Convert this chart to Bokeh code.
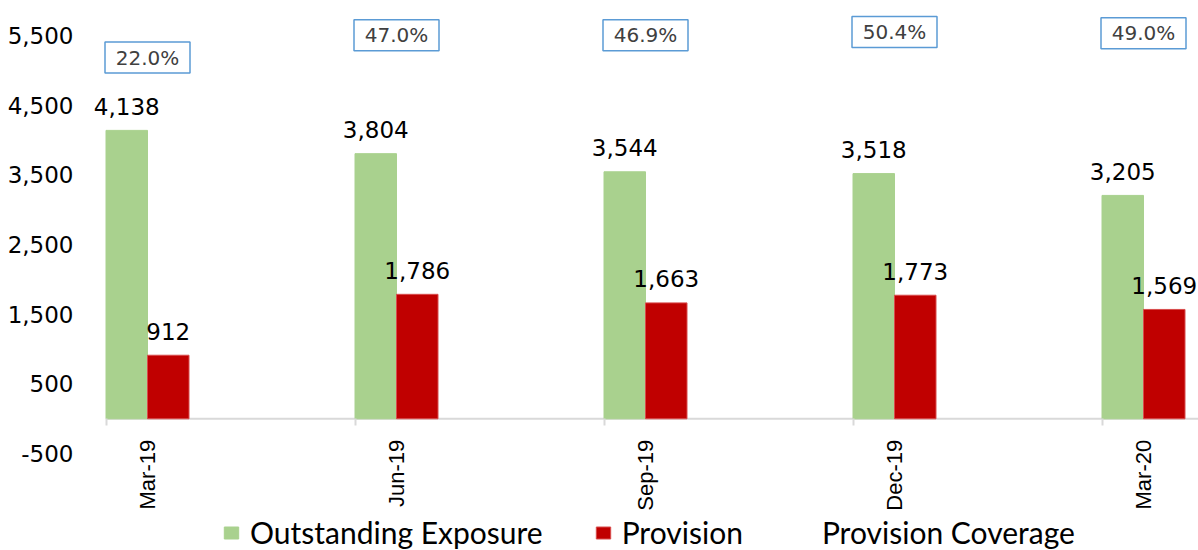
import math
from bokeh.plotting import figure
from bokeh.models import (ColumnDataSource, Range1d, FixedTicker, NumeralTickFormatter,
                          Legend, LegendItem)
from bokeh.transform import dodge
from bokeh.core.properties import value
from bokeh.embed import file_html
from bokeh.resources import INLINE

# ---- data ----
categories = ["Mar-19", "Jun-19", "Sep-19", "Dec-19", "Mar-20"]
exposure = [4138, 3804, 3544, 3518, 3205]
provision = [912, 1786, 1663, 1773, 1569]
coverage = [22.0, 47.0, 46.9, 50.4, 49.0]
y_ticks = [-500, 500, 1500, 2500, 3500, 4500, 5500]

# ---- layout constants ----
W, H = 1198, 550
FRAME_LEFT = 88
S = 249.0             # px per category
FIRST_CENTER = 147.0  # canvas px of first category centre
PX_PER_UNIT = 0.0697
ZERO_Y = 418.3        # canvas px of value 0

x_start = -(FIRST_CENTER - FRAME_LEFT) / S
x_end = (W - FIRST_CENTER) / S
y_end = ZERO_Y / PX_PER_UNIT
y_start = -(H - ZERO_Y) / PX_PER_UNIT

# secondary scale for coverage labels
COV_Y0 = 57.1   # canvas px at 22%
COV_SLOPE = 0.898
cov_end = 22 + COV_Y0 / COV_SLOPE
cov_start = 22 - (H - COV_Y0) / COV_SLOPE

GREEN = "#A9D18E"
RED = "#C00000"
BW = 1.0 / 6.0

idx = list(range(len(categories)))
src = ColumnDataSource(dict(
    x=idx,
    exposure=exposure,
    provision=provision,
    coverage=coverage,
    exp_label=[f"{v:,}" for v in exposure],
    prov_label=[f"{v:,}" for v in provision],
    cov_label=[f"{v:.1f}%" for v in coverage],
))

p = figure(width=W, height=H, x_range=Range1d(x_start, x_end), y_range=Range1d(y_start, y_end),
           output_backend="svg", toolbar_location=None,
           min_border_left=FRAME_LEFT, min_border_right=0, min_border_top=0, min_border_bottom=0)
p.extra_y_ranges = {"cov": Range1d(cov_start, cov_end)}
p.outline_line_color = None
p.xgrid.visible = False
p.ygrid.visible = False
p.background_fill_color = "white"
p.border_fill_color = "white"

# y axis
p.yaxis.ticker = FixedTicker(ticks=y_ticks)
p.yaxis.formatter = NumeralTickFormatter(format="0,0")
p.yaxis.axis_line_color = None
p.yaxis.major_tick_line_color = None
p.yaxis.minor_tick_line_color = None
p.yaxis.major_label_text_font = "DejaVu Sans"
p.yaxis.major_label_text_font_size = "23px"
p.yaxis.major_label_text_color = "black"
p.yaxis.major_label_standoff = 9

# x axis at zero (line drawn separately from first bar edge)
p.xaxis.fixed_location = 0
p.xaxis.ticker = FixedTicker(ticks=idx, minor_ticks=[i - BW for i in idx])
p.xaxis.major_label_overrides = {i: c for i, c in zip(idx, categories)}
p.xaxis.major_label_orientation = math.pi / 2
p.xaxis.axis_line_color = None
p.xaxis.major_tick_line_color = None
p.xaxis.major_tick_out = 0
p.xaxis.major_tick_in = 0
p.xaxis.minor_tick_line_color = "#D9D9D9"
p.xaxis.minor_tick_line_width = 2
p.xaxis.minor_tick_out = 7
p.xaxis.minor_tick_in = 0
p.xaxis.major_label_text_font = "Liberation Sans"
p.xaxis.major_label_text_font_size = "22px"
p.xaxis.major_label_text_color = "black"
p.xaxis.major_label_standoff = 14

p.segment(x0=[idx[0] - BW], x1=[x_end], y0=[0], y1=[0], line_color="#D9D9D9", line_width=2)

# bars
g = p.vbar(x=dodge("x", -BW / 2, range=p.x_range), top="exposure", bottom=0, width=BW,
           fill_color=GREEN, line_color=GREEN, source=src)
r = p.vbar(x=dodge("x", BW / 2, range=p.x_range), top="provision", bottom=0, width=BW,
           fill_color=RED, line_color="#D84C4C", line_width=1, source=src)

# value labels
for col, lab, off in (("exposure", "exp_label", -BW / 2), ("provision", "prov_label", BW / 2)):
    p.text(x=dodge("x", off, range=p.x_range), y=col, text=lab, source=src,
           y_offset=-24, text_align="center", text_baseline="middle",
           text_font=value("DejaVu Sans"), text_font_size="23px", text_color="black")

# coverage (invisible line) + boxed labels
cov_line = p.line(x="x", y="coverage", source=src, y_range_name="cov", line_alpha=0)
p.rect(x="x", y="coverage", width=85, height=31, width_units="screen", height_units="screen",
       fill_color="white", line_color="#5B9BD5", line_width=1.5, source=src, y_range_name="cov")
p.text(x="x", y="coverage", text="cov_label", source=src, y_range_name="cov",
       text_align="center", text_baseline="middle", text_font=value("DejaVu Sans"),
       text_font_size="20px", text_color="#404040")

legend = Legend(items=[
    LegendItem(label="Outstanding Exposure", renderers=[g]),
    LegendItem(label="Provision", renderers=[r]),
    LegendItem(label="Provision Coverage", renderers=[cov_line]),
], orientation="horizontal", location=(222 - FRAME_LEFT, 0), glyph_width=18, glyph_height=15,
    label_standoff=10, spacing=51, padding=0, margin=0, border_line_color=None,
    background_fill_alpha=0, label_text_font="Lato", label_text_font_size="30px",
    label_text_color="black")
p.add_layout(legend)

open("out.html", "w").write(file_html(p, INLINE))
